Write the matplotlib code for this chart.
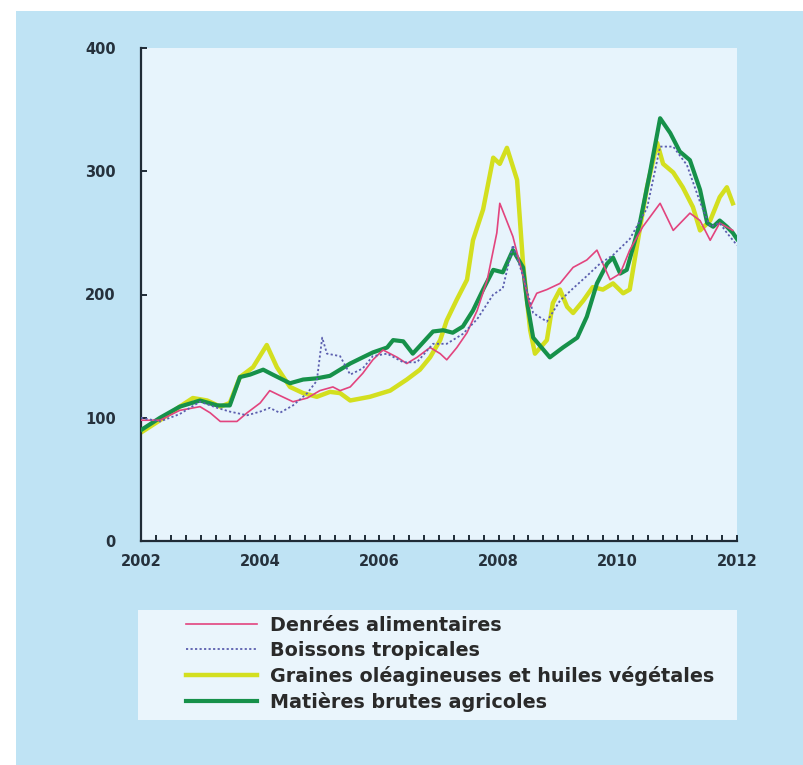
import matplotlib
matplotlib.use("Agg")
import matplotlib.pyplot as plt
from matplotlib.patches import Rectangle
from matplotlib.ticker import MultipleLocator, FixedLocator

plt.rcParams['font.family'] = ['DejaVu Sans']

# ---- data (decimal years, index values) ----
labels = ["Denrées alimentaires", "Boissons tropicales",
          "Graines oléagineuses et huiles végétales", "Matières brutes agricoles"]

food_t = [2002.00, 2002.32, 2002.65, 2002.99, 2003.16, 2003.33, 2003.61, 2003.78, 2004.00,
          2004.16, 2004.33, 2004.55, 2004.79, 2005.00, 2005.22, 2005.34, 2005.51, 2005.72,
          2005.89, 2006.06, 2006.30, 2006.46, 2006.63, 2006.85, 2007.02, 2007.13, 2007.30,
          2007.47, 2007.64, 2007.81, 2007.97, 2008.02, 2008.24, 2008.41, 2008.53, 2008.64,
          2008.81, 2009.03, 2009.25, 2009.48, 2009.65, 2009.75, 2009.87, 2010.04, 2010.20,
          2010.42, 2010.71, 2010.93, 2011.21, 2011.38, 2011.55, 2011.71, 2011.93]
food_v = [98, 98, 106, 109, 104, 97, 97, 104, 112,
          122, 118, 113, 116, 122, 125, 122, 125, 136,
          147, 155, 149, 144, 149, 157, 152, 147, 157,
          169, 187, 212, 250, 274, 247, 215, 190, 201,
          204, 209, 222, 228, 236, 225, 212, 217, 236,
          255, 274, 252, 266, 260, 244, 258, 252]

bev_t = [2002.00, 2002.32, 2002.65, 2002.99, 2003.28, 2003.49, 2003.78, 2004.00, 2004.16,
         2004.33, 2004.55, 2004.79, 2004.95, 2005.04, 2005.12, 2005.34, 2005.51, 2005.72,
         2005.89, 2006.13, 2006.40, 2006.63, 2006.90, 2007.13, 2007.40, 2007.64, 2007.91,
         2008.07, 2008.24, 2008.41, 2008.58, 2008.81, 2009.03, 2009.25, 2009.48, 2009.70,
         2009.92, 2010.20, 2010.49, 2010.71, 2010.93, 2011.16, 2011.38, 2011.55, 2011.71,
         2011.83, 2012.00]
bev_v = [100, 97, 103, 113, 108, 105, 102, 105, 108,
         104, 110, 120, 130, 165, 152, 150, 135, 140,
         150, 152, 145, 145, 160, 160, 168, 180, 200,
         205, 240, 215, 185, 178, 195, 205, 215, 225,
         232, 245, 270, 320, 320, 305, 275, 255, 258,
         250, 240]

oil_t = [2002.00, 2002.32, 2002.65, 2002.87, 2003.11, 2003.33, 2003.49, 2003.66, 2003.88,
         2004.11, 2004.28, 2004.50, 2004.72, 2004.95, 2005.17, 2005.34, 2005.51, 2005.84,
         2006.18, 2006.46, 2006.68, 2006.85, 2007.02, 2007.13, 2007.30, 2007.47, 2007.57,
         2007.74, 2007.91, 2008.02, 2008.14, 2008.31, 2008.41, 2008.53, 2008.61, 2008.81,
         2008.91, 2009.03, 2009.15, 2009.25, 2009.42, 2009.58, 2009.75, 2009.92, 2010.09,
         2010.20, 2010.32, 2010.49, 2010.66, 2010.76, 2010.93, 2011.09, 2011.26, 2011.38,
         2011.55, 2011.71, 2011.83, 2011.93]
oil_v = [88, 98, 109, 116, 114, 109, 112, 133, 141,
         159, 141, 125, 120, 117, 121, 120, 114, 117,
         122, 131, 139, 149, 163, 179, 196, 212, 244,
         269, 311, 306, 319, 293, 225, 171, 152, 163,
         193, 204, 190, 185, 195, 206, 204, 209, 201,
         204, 239, 287, 323, 306, 299, 287, 271, 252,
         260, 279, 287, 274]

raw_t = [2002.00, 2002.32, 2002.65, 2002.99, 2003.28, 2003.49, 2003.66, 2003.83, 2004.05,
         2004.21, 2004.50, 2004.72, 2004.95, 2005.17, 2005.51, 2005.72, 2005.89, 2006.13,
         2006.23, 2006.40, 2006.56, 2006.73, 2006.90, 2007.07, 2007.23, 2007.40, 2007.57,
         2007.74, 2007.91, 2008.07, 2008.24, 2008.41, 2008.48, 2008.58, 2008.86, 2009.08,
         2009.32, 2009.48, 2009.65, 2009.82, 2009.92, 2010.04, 2010.15, 2010.37, 2010.54,
         2010.71, 2010.88, 2011.04, 2011.21, 2011.38, 2011.50, 2011.60, 2011.71, 2011.83,
         2011.93, 2012.00]
raw_v = [90, 100, 109, 114, 110, 110, 133, 135, 139,
         135, 128, 131, 132, 134, 144, 149, 153, 157,
         163, 162, 152, 161, 170, 171, 169, 174, 187,
         204, 220, 218, 236, 222, 193, 165, 149, 157,
         165, 182, 209, 225, 230, 217, 220, 258, 299,
         343, 331, 316, 309, 285, 258, 255, 260, 255,
         250, 245]

x_ticks = [2002, 2004, 2006, 2008, 2010, 2012]
y_ticks = [0, 100, 200, 300, 400]

# ---- figure ----
W, H = 804, 765
fig = plt.figure(figsize=(W / 100, H / 100), dpi=100, facecolor='white')
fig.patches.append(Rectangle((16 / W, 0), 1 - 16 / W, 1 - 11 / H, transform=fig.transFigure,
                             facecolor='#bfe3f4', edgecolor='none', zorder=-10))
fig.patches.append(Rectangle((138 / W, 1 - 720 / H), (737 - 138) / W, (720 - 610) / H,
                             transform=fig.transFigure, facecolor='#eaf5fc',
                             edgecolor='none', zorder=-5))

ax = fig.add_axes([141 / W, 1 - 541 / H, (737 - 141) / W, (541 - 48) / H])
ax.set_facecolor('#e7f4fc')

c_food, c_bev, c_oil, c_raw = '#e2447e', '#5b5eae', '#d3df1f', '#16914a'
l3, = ax.plot(oil_t, oil_v, color=c_oil, lw=3.2, zorder=2)
l4, = ax.plot(raw_t, raw_v, color=c_raw, lw=3.0, zorder=3)
l1, = ax.plot(food_t, food_v, color=c_food, lw=1.2, zorder=4)
l2, = ax.plot(bev_t, bev_v, color=c_bev, lw=1.3, ls=(0, (1.2, 1.3)), zorder=5)

ax.set_xlim(2002, 2012)
ax.set_ylim(0, 400)
for s in ['top', 'right']:
    ax.spines[s].set_visible(False)
for s in ['left', 'bottom']:
    ax.spines[s].set_linewidth(1.6)
    ax.spines[s].set_color('#1f2b36')

ax.xaxis.set_major_locator(FixedLocator(x_ticks))
ax.xaxis.set_minor_locator(MultipleLocator(0.25))
ax.yaxis.set_major_locator(FixedLocator(y_ticks))
ax.set_xticklabels([str(v) for v in x_ticks])
ax.set_yticklabels([str(v) for v in y_ticks])
ax.tick_params(axis='x', which='both', direction='in', length=4, width=1.4, color='#1f2b36')
ax.tick_params(axis='x', which='major', pad=9, labelsize=10.5, labelcolor='#25313c')
ax.tick_params(axis='y', which='major', direction='in', length=4, width=1.4, color='#1f2b36',
               pad=18, labelsize=10.5, labelcolor='#25313c')
for t in ax.get_xticklabels() + ax.get_yticklabels():
    t.set_fontweight('bold')

leg = fig.legend([l1, l2, l3, l4], labels, loc='upper left',
                 bbox_to_anchor=(186 / W, 1 - 616 / H), frameon=False,
                 prop={'family': 'DejaVu Sans', 'size': 13.8, 'weight': 'bold'},
                 handlelength=3.7, handletextpad=0.67, labelspacing=0.31,
                 borderaxespad=0, borderpad=0)
for t in leg.get_texts():
    t.set_color('#2a2a2a')

fig.savefig('out.png', dpi=100, facecolor=fig.get_facecolor())
